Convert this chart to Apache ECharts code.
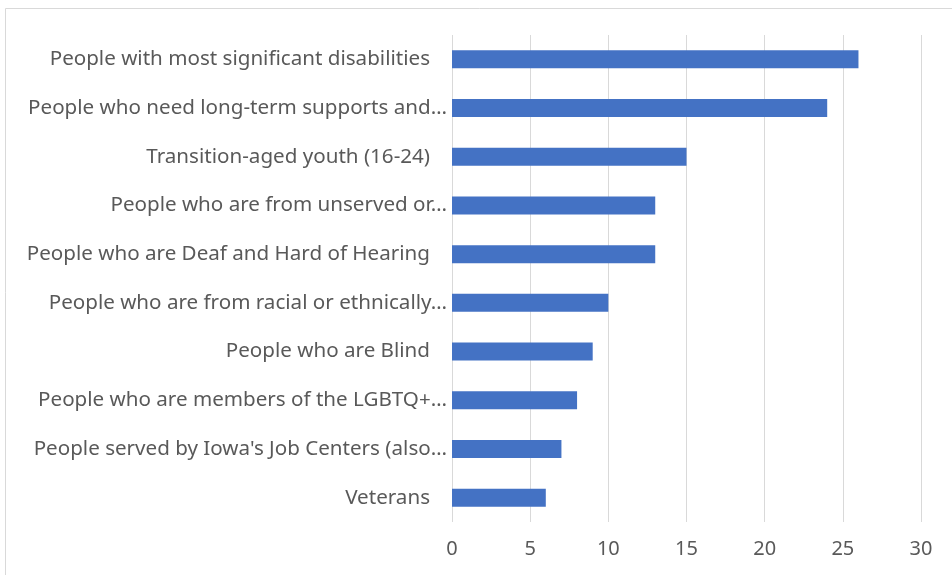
<!DOCTYPE html>
<html>
<head>
<meta charset="utf-8">
<script src="https://cdn.jsdelivr.net/npm/echarts@6/dist/echarts.min.js"></script>
<style>
  html, body { margin: 0; padding: 0; background: #fff; }
  #chart { width: 952px; height: 575px; }
</style>
</head>
<body>
<div id="chart"></div>
<script>
// categories top to bottom, as shown in the picture (Excel cut the long ones)
const categories = [
  'People with most significant disabilities',
  'People who need long-term supports and…',
  'Transition-aged youth (16-24)',
  'People who are from unserved or…',
  'People who are Deaf and Hard of Hearing',
  'People who are from racial or ethnically…',
  'People who are Blind',
  'People who are members of the LGBTQ+…',
  'People served by Iowa\'s Job Centers (also…',
  'Veterans'
];
const values = [26, 24, 15, 13, 13, 10, 9, 8, 7, 6];
const xTicks = [0, 5, 10, 15, 20, 25, 30];

const chart = echarts.init(document.getElementById('chart'));

const tickFont = { color: '#595959', fontSize: 20, fontFamily: 'Noto Sans' };
const catFont = { color: '#595959', fontSize: 20.6, fontFamily: 'Noto Sans' };

const option = {
  animation: false,
  graphic: [{
    type: 'rect',
    shape: { x: 5.5, y: 8.5, width: 1000, height: 1000 },
    style: { fill: 'none', stroke: '#d9d9d9', lineWidth: 1 },
    silent: true
  }],
  grid: {
    left: 452,
    right: 31,
    top: 35,
    bottom: 53
  },
  xAxis: {
    type: 'value',
    min: xTicks[0],
    max: xTicks[xTicks.length - 1],
    interval: 5,
    axisLine: { show: false },
    axisTick: { show: false },
    axisLabel: Object.assign({ margin: 17 }, tickFont),
    splitLine: { lineStyle: { color: '#d9d9d9', width: 1 } }
  },
  yAxis: {
    type: 'category',
    inverse: true,
    data: categories,
    axisLine: { show: false },
    axisTick: { show: false },
    axisLabel: Object.assign({
      margin: 5,
      // full labels keep Excel's trailing gap, cut ones run up to the axis
      formatter: v => v.endsWith('…') ? '{cut|' + v + '}' : '{full|' + v + '}',
      rich: {
        cut: Object.assign({}, catFont),
        full: Object.assign({ padding: [0, 17, 0, 0] }, catFont)
      }
    }, catFont)
  },
  series: [{
    type: 'bar',
    data: values,
    barWidth: '37%',
    itemStyle: { color: '#4472c4' }
  }]
};

chart.setOption(option);
</script>
</body>
</html>
